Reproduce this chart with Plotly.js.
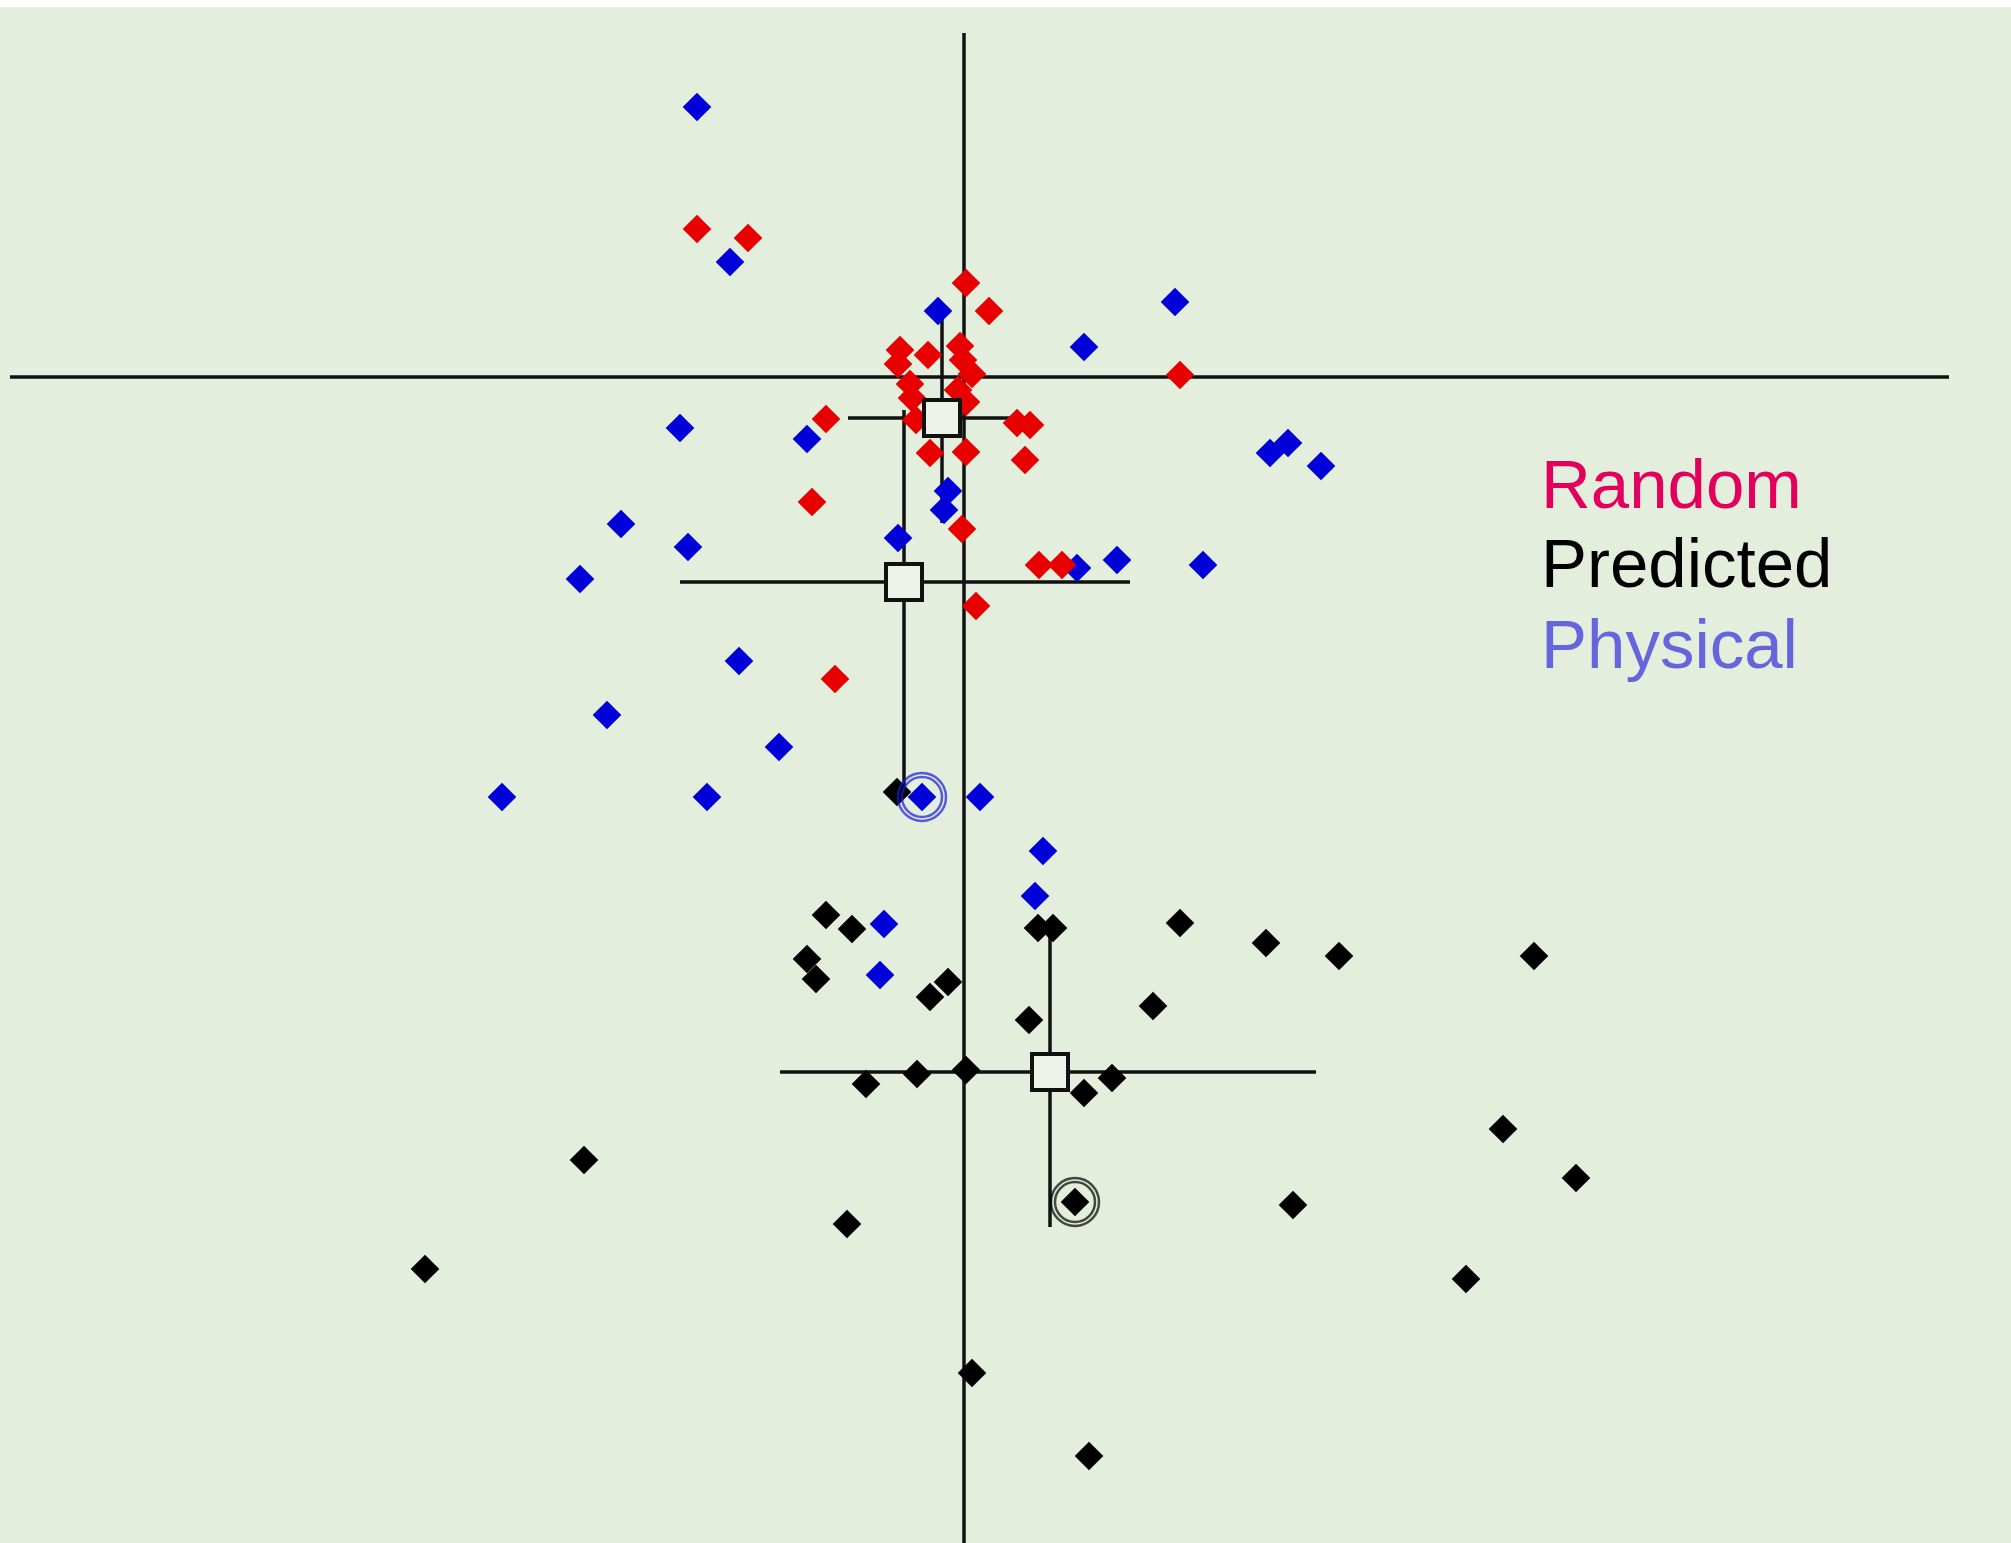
<!DOCTYPE html>
<html>
<head>
<meta charset="utf-8">
<script src="https://cdn.plot.ly/plotly-3.0.1.min.js"></script>
<style>
html,body{margin:0;padding:0;background:#ffffff;}
#chart{width:2011px;height:1543px;}
</style>
</head>
<body>
<div id="chart"></div>
<script>
// Values in arbitrary units, origin at the main crosshair (y positive upward)
var randomX = [-2.67,-2.16,0.02,0.25,2.16,-1.38,-1.52,-1.29,0.75,0.98,0.12,-0.02,0.61,-0.34,0.02,0.53,0.66,
               -0.64,-0.66,-0.36,-0.04,-0.01,0.08,-0.54,-0.52,-0.06,0.02,-0.48];
var randomY = [1.48,1.39,0.94,0.66,0.02,-0.42,-1.25,-3.02,-1.88,-1.88,-2.29,-1.52,-0.83,-0.76,-0.75,-0.46,-0.48,
               0.27,0.13,0.22,0.31,0.17,0.03,-0.07,-0.21,-0.13,-0.25,-0.43];

var physicalX = [-2.67,-2.34,-0.26,2.11,1.20,-2.84,-1.57,3.06,3.24,3.57,-0.16,-0.20,-3.43,-2.76,-3.84,-0.66,
                 1.13,1.53,2.39,-2.25,-3.57,-1.85,-4.62,-2.57,-0.42,0.16,0.79,0.71,-0.80,-0.84];
var physicalY = [2.70,1.15,0.66,0.75,0.30,-0.51,-0.62,-0.76,-0.66,-0.89,-1.14,-1.33,-1.47,-1.70,-2.02,-1.61,
                 -1.91,-1.83,-1.88,-2.84,-3.38,-3.70,-4.20,-4.20,-4.20,-4.20,-4.74,-5.19,-5.47,-5.98];

var predictedX = [-0.67,-1.38,-1.12,0.74,0.89,2.16,3.02,3.75,5.70,-1.57,-1.48,-0.34,-0.16,1.89,0.65,
                  -0.98,-0.47,0.02,1.20,1.48,5.39,6.12,1.11,3.29,-1.17,-3.80,-5.39,5.02,0.08,1.25];
var predictedY = [-4.15,-5.38,-5.52,-5.51,-5.51,-5.46,-5.66,-5.79,-5.79,-5.82,-6.02,-6.20,-6.05,-6.29,-6.43,
                  -7.07,-6.97,-6.93,-7.16,-7.01,-7.52,-8.01,-8.25,-8.28,-8.47,-7.83,-8.92,-9.02,-9.96,-10.79];

// Group means with spread bars: Random, Physical, Predicted
var groupNames   = ["Random","Physical","Predicted"];
var meanX        = [-0.22,-0.60,0.86];
var meanY        = [-0.41,-2.05,-6.95];
var spreadXLeft  = [0.94,2.24,2.70];
var spreadXRight = [0.91,2.26,2.66];
var spreadYUp    = [1.06,1.72,1.43];
var spreadYDown  = [1.05,2.08,1.55];

// Highlighted individual points
var markedPhysical  = [-0.42,-4.20];
var markedPredicted = [1.11,-8.25];

// Reference crosshair extents
var crossHX = [-9.54, 9.85];
var crossVY = [3.44, -12.0];

var legendLabels = ["Random","Predicted","Physical"];
var legendColors = ["#e2005c","#000000","#6565dd"];

var bg = "#e3eedc";
var diamondSize = 22;

var traces = [];
// crosshair
traces.push({x: crossHX, y: [0,0], mode:"lines", line:{color:"#111", width:3.5}, hoverinfo:"skip"});
traces.push({x: [0,0], y: crossVY, mode:"lines", line:{color:"#111", width:3.5}, hoverinfo:"skip"});
// spread bars (under points)
traces.push({
  x: meanX, y: meanY, mode:"markers", marker:{size:1, color:"rgba(0,0,0,0)"},
  error_x:{type:"data", symmetric:false, array:spreadXRight, arrayminus:spreadXLeft, width:0, thickness:3.5, color:"#111"},
  error_y:{type:"data", symmetric:false, array:spreadYUp, arrayminus:spreadYDown, width:0, thickness:3.5, color:"#111"},
  hoverinfo:"skip"
});
// points
traces.push({x: predictedX, y: predictedY, mode:"markers", name:"Predicted",
  marker:{symbol:"diamond", size:diamondSize, color:"#000000", line:{width:0}}});
traces.push({x: physicalX, y: physicalY, mode:"markers", name:"Physical",
  marker:{symbol:"diamond", size:diamondSize, color:"#0000d8", line:{width:0}}});
traces.push({x: randomX, y: randomY, mode:"markers", name:"Random",
  marker:{symbol:"diamond", size:diamondSize, color:"#e80000", line:{width:0}}});
// rings around highlighted points
[[markedPhysical,"#1a1ae0"],[markedPredicted,"#000000"]].forEach(function(m){
  traces.push({x:[m[0][0],m[0][0]], y:[m[0][1],m[0][1]], mode:"markers",
    marker:{symbol:"circle-open", size:[48,40], color:m[1], line:{width:2.5, color:m[1]}}, hoverinfo:"skip"});
});
// means as open squares on top
traces.push({x: meanX, y: meanY, mode:"markers", text: groupNames,
  marker:{symbol:"square", size:36, color:"#eef3e9", line:{width:4, color:"#111"}}});

var annotations = legendLabels.map(function(t,i){
  return {xref:"paper", yref:"paper", x:(1539/2011), y:1-((484+i*80)-7)/1536,
    xanchor:"left", yanchor:"middle", showarrow:false, text:t,
    font:{family:"Liberation Sans, Arial, sans-serif", size:69, color:legendColors[i]}};
});

var layout = {
  width:2011, height:1543,
  margin:{l:0,r:0,t:7,b:0,pad:0},
  paper_bgcolor:"#ffffff", plot_bgcolor:bg,
  showlegend:false,
  xaxis:{range:[-9.64,10.47], visible:false, showgrid:false, zeroline:false, fixedrange:true},
  yaxis:{range:[-11.66,3.70], visible:false, showgrid:false, zeroline:false, fixedrange:true},
  annotations: annotations
};

Plotly.newPlot("chart", traces, layout, {displayModeBar:false, staticPlot:true});
</script>
</body>
</html>
